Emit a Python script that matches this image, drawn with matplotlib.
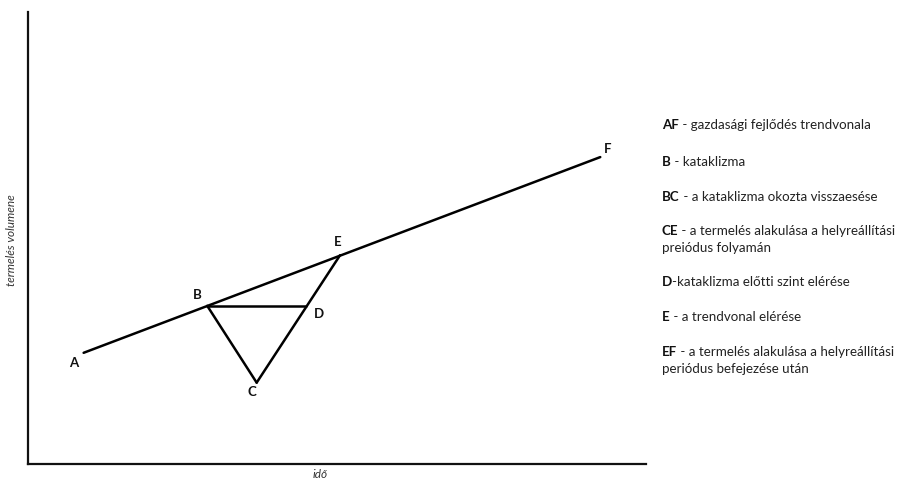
import matplotlib
matplotlib.use("Agg")
import matplotlib.pyplot as plt

# points of the scheme (time, production volume)
point_names = ["A", "B", "C", "D", "E", "F"]
point_time = [9.0, 29.0, 37.0, 45.0, 50.5, 92.6]
point_volume = [24.6, 35.0, 18.0, 35.0, 46.2, 67.9]

# which points are joined
segments = [("A", "F"), ("B", "C"), ("C", "E"), ("B", "D")]

# label offsets in pixels from the point
label_offsets = {"A": (-10, -10), "B": (-10, 11), "C": (-5, -9),
                 "D": (13, -8), "E": (-2, 13), "F": (7, 8)}

legend_keys = ["AF", "B", "BC", "CE", "D", "E", "EF"]
legend_texts = [" - gazdasági fejlődés trendvonala",
                " - kataklizma",
                " - a kataklizma okozta visszaesése",
                " - a termelés alakulása a helyreállítási",
                "-kataklizma előtti szint elérése",
                " - a trendvonal elérése",
                " - a termelés alakulása a helyreállítási"]
legend_second = ["", "", "", "preiódus folyamán", "", "",
                 "periódus befejezése után"]
legend_y = [125, 162, 197, 231, 282, 317, 352]

plt.rcParams["font.family"] = ["Lato", "DejaVu Sans"]

W, H = 904, 479
fig = plt.figure(figsize=(W / 100, H / 100), dpi=100)
ax = fig.add_axes([28 / W, (H - 464) / H, 618 / W, 452 / H])
ax.set_xlim(0, 100)
ax.set_ylim(0, 100)
for s in ["top", "right"]:
    ax.spines[s].set_visible(False)
for s in ["left", "bottom"]:
    ax.spines[s].set_linewidth(1.6)
    ax.spines[s].set_color("#111111")
ax.set_xticks([])
ax.set_yticks([])

pos = {n: (t, v) for n, t, v in zip(point_names, point_time, point_volume)}
for a, b in segments:
    ax.plot([pos[a][0], pos[b][0]], [pos[a][1], pos[b][1]],
            color="black", lw=1.8, solid_capstyle="round")

for n in point_names:
    ax.annotate(n, pos[n], xytext=label_offsets[n], textcoords="offset pixels",
                ha="center", va="center", fontsize=9.5, fontweight="bold",
                color="#111111")

fig.text(12 / W, 1 - 240 / H, "termelés volumene", rotation=90,
         ha="center", va="center", fontsize=8.5, style="italic", color="#333333")
fig.text(320 / W, 1 - 475 / H, "idő", ha="center", va="center",
         fontsize=8.5, style="italic", color="#333333")

fs = 9.6
lx = 662 / W
for key, txt, sec, y in zip(legend_keys, legend_texts, legend_second, legend_y):
    k = fig.text(lx, 1 - y / H, key, ha="left", va="center", fontsize=fs,
                 fontweight="bold", color="#111111")
    ax.annotate(txt, xy=(1, 0), xycoords=k, ha="left", va="bottom",
                fontsize=fs, color="#222222", annotation_clip=False)
    if sec:
        fig.text(lx, 1 - (y + 17) / H, sec, ha="left", va="center",
                 fontsize=fs, color="#222222")

fig.savefig("out.png", dpi=100)
